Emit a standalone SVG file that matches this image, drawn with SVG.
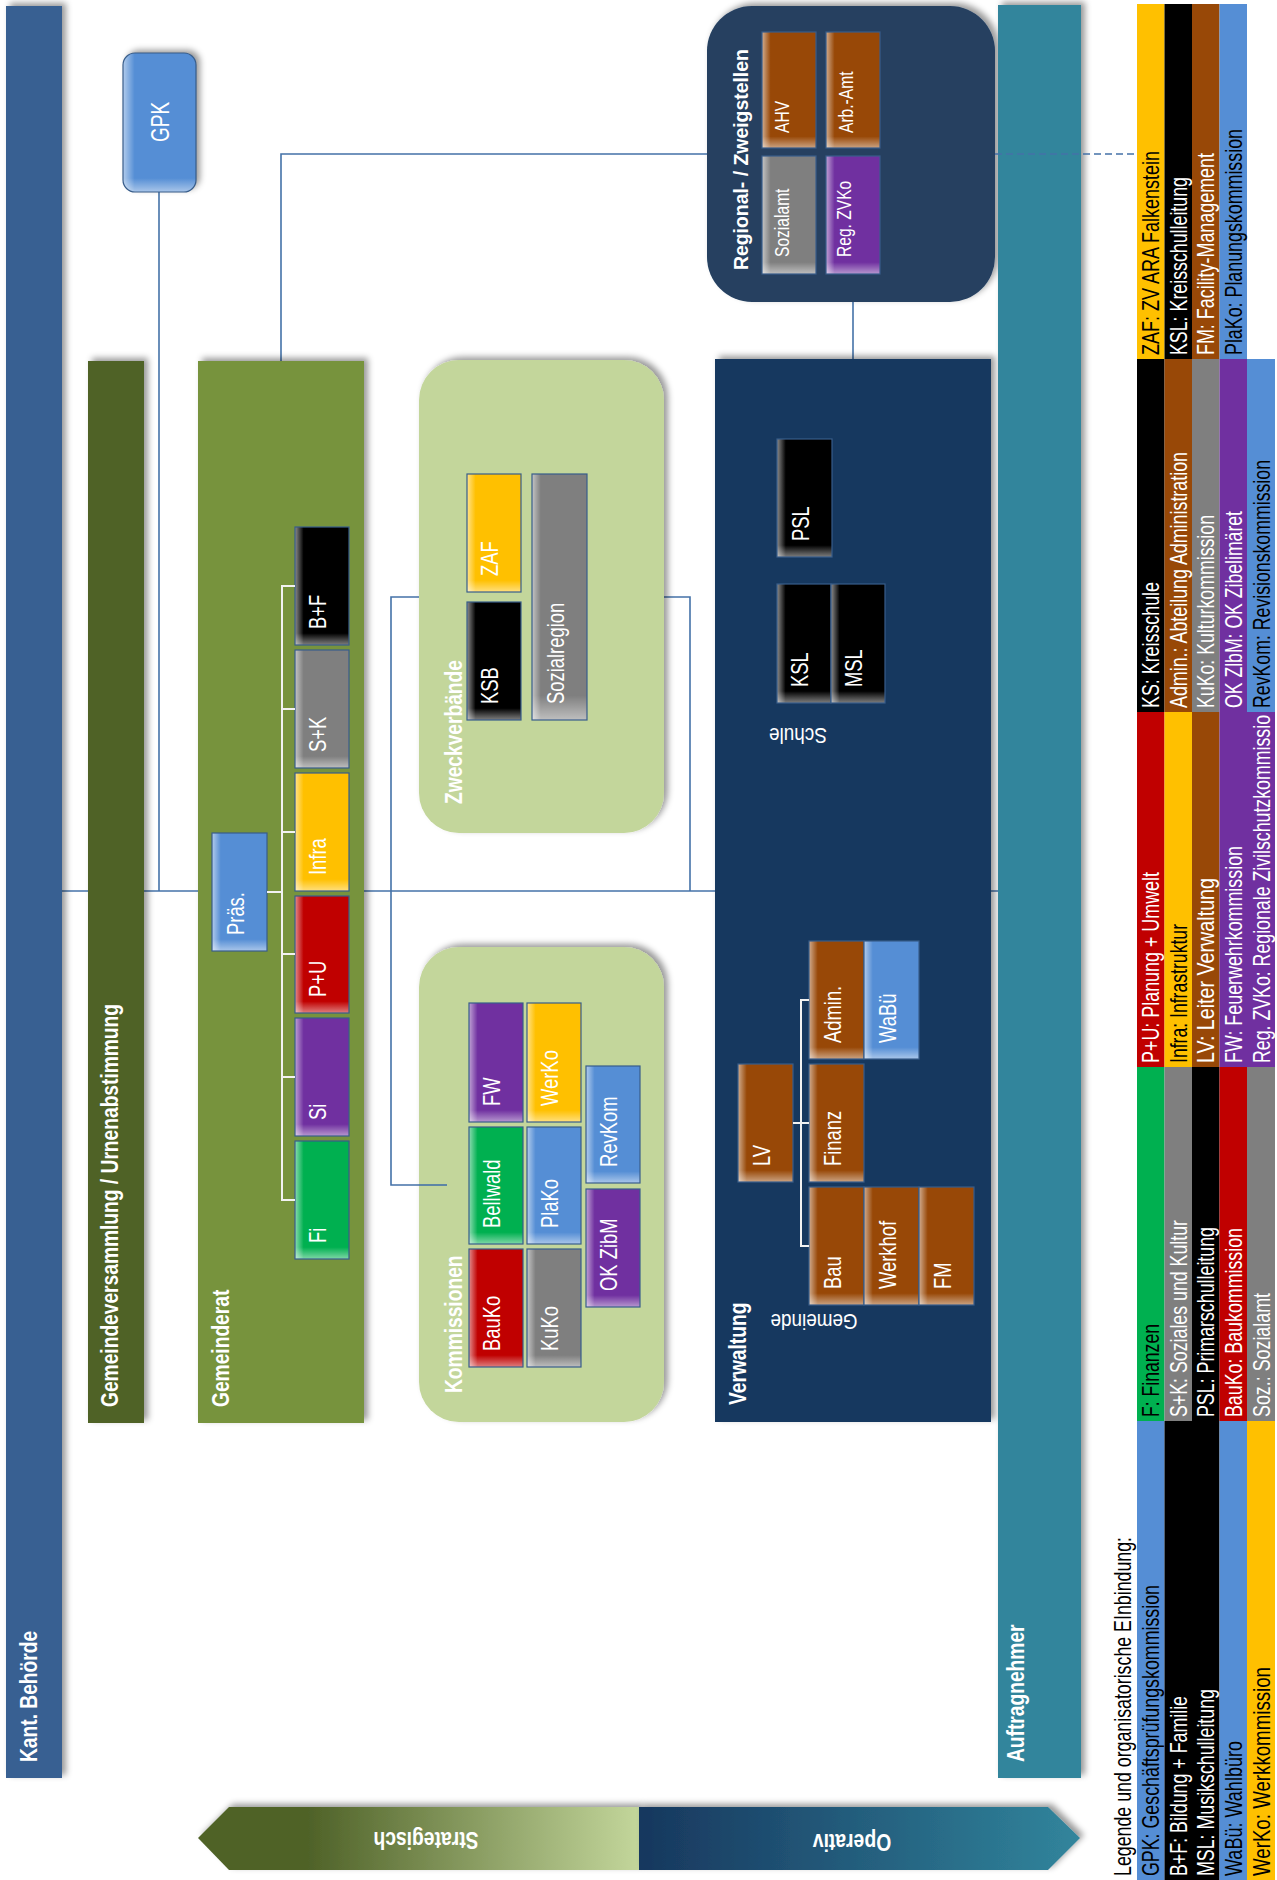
<svg xmlns="http://www.w3.org/2000/svg" width="1277" height="1880" viewBox="0 0 1277 1880">
<defs>
<filter id="sh" x="-30%" y="-30%" width="160%" height="160%"><feDropShadow dx="4" dy="-3" stdDeviation="3" flood-color="#000" flood-opacity="0.4"/></filter>
<linearGradient id="gL" x1="0" y1="0" x2="1" y2="0"><stop offset="0" stop-color="#fff" stop-opacity="0.55"/><stop offset="0.16" stop-color="#fff" stop-opacity="0"/></linearGradient>
<linearGradient id="gB" x1="0" y1="0" x2="0" y2="1"><stop offset="0.9" stop-color="#fff" stop-opacity="0"/><stop offset="1" stop-color="#fff" stop-opacity="0.5"/></linearGradient>
<linearGradient id="gStr" x1="0" y1="0" x2="1" y2="0"><stop offset="0.25" stop-color="#4F6228"/><stop offset="1" stop-color="#C3D69B"/></linearGradient>
<linearGradient id="gOp" x1="0" y1="0" x2="1" y2="0"><stop offset="0" stop-color="#17375E"/><stop offset="1" stop-color="#31859C"/></linearGradient>
<style>
text{font-family:"Liberation Sans",Arial,sans-serif;fill:#fff}
.bt{font-size:23px}
.rt{font-size:20px}
.gp{font-size:25px}
.ud{font-size:22px}
.tt{font-size:24px;font-weight:bold}
.rg{font-size:20px;font-weight:bold}
.ar{font-size:23px;font-weight:bold}
.lg{font-size:24px}
.dk{fill:#000}
.ln{stroke:#4472A8;stroke-width:1.6;fill:none}
.wl{stroke:#F2F2F2;stroke-width:2;fill:none}
.hl{fill:url(#gL)}
.hb{fill:url(#gB);stroke:#385D8A;stroke-width:1.2}
.blk{fill:#000}.gry{fill:#7F7F7F}.yel{fill:#FFC000}.red{fill:#C00000}.pur{fill:#7030A0}.grn{fill:#00B050}.blu{fill:#558ED5}.brn{fill:#984807}
</style>
</defs>
<rect x="0" y="0" width="1277" height="1880" fill="#fff"/>

<g id="connectors">
<path class="ln" d="M62 891 H998"/>
<path class="ln" d="M159 192 V891"/>
<path class="ln" d="M281 361 V154 H707"/>
<path class="ln" d="M853 302 V359"/>
<path class="ln" d="M690 891 V597 H391 V1185 H447"/>
</g>

<g id="kant"><rect x="6" y="6" width="56" height="1772" fill="#376092" filter="url(#sh)"/>
<text class="tt" transform="translate(37,1762) rotate(-90) scale(.8,1)">Kant. Behörde</text></g>

<g id="gpk"><rect x="123" y="53" width="73" height="139" rx="12" class="blu" filter="url(#sh)"/><rect x="123" y="53" width="73" height="139" rx="12" class="hl"/><rect x="123" y="53" width="73" height="139" rx="12" class="hb"/>
<text class="gp" text-anchor="middle" transform="translate(169,122) rotate(-90) scale(.76,1)">GPK</text></g>

<g id="gemeindeversammlung"><rect x="88" y="361" width="56" height="1062" fill="#4F6228" filter="url(#sh)"/>
<text class="tt" transform="translate(118,1407) rotate(-90) scale(.8,1)">Gemeindeversammlung / Urnenabstimmung</text></g>

<g id="gemeinderat"><rect x="198" y="361" width="166" height="1062" fill="#77933C" filter="url(#sh)"/>
<text class="tt" transform="translate(229,1407) rotate(-90) scale(.8,1)">Gemeinderat</text></g>

<g id="zweckverbaende"><rect x="419" y="360" width="245" height="473" rx="40" fill="#C3D69B" filter="url(#sh)"/>
<text class="tt" transform="translate(462,804) rotate(-90) scale(.8,1)">Zweckverbände</text></g>

<g id="kommissionen"><rect x="419" y="947" width="245" height="475" rx="40" fill="#C3D69B" filter="url(#sh)"/>
<text class="tt" transform="translate(462,1393) rotate(-90) scale(.8,1)">Kommissionen</text></g>

<g id="regional"><rect x="707" y="6" width="288" height="296" rx="45" fill="#254061" filter="url(#sh)"/>
<text class="rg" transform="translate(748,270) rotate(-90) scale(.97,1)">Regional- / Zweigstellen</text></g>

<g id="verwaltung"><rect x="715" y="359" width="276" height="1063" fill="#17375E" filter="url(#sh)"/>
<text class="tt" transform="translate(746,1405) rotate(-90) scale(.8,1)">Verwaltung</text>
<text class="ud" text-anchor="middle" transform="translate(798,728) rotate(180) scale(.86,1)">Schule</text>
<text class="ud" text-anchor="middle" transform="translate(814,1314) rotate(180) scale(.86,1)">Gemeinde</text></g>

<g id="auftragnehmer"><rect x="998" y="5" width="83" height="1773" fill="#31859C" filter="url(#sh)"/>
<text class="tt" transform="translate(1024,1762) rotate(-90) scale(.8,1)">Auftragnehmer</text></g>

<g id="n-praes"><rect x="212" y="833" width="55" height="118" class="blu"/><rect x="212" y="833" width="55" height="118" class="hl"/><rect x="212" y="833" width="55" height="118" class="hb"/><text class="bt" transform="translate(243.5,935) rotate(-90) scale(.8,1)">Präs.</text></g>
<g id="n-bf"><rect x="295" y="527" width="54" height="118" class="blk"/><rect x="295" y="527" width="54" height="118" class="hl"/><rect x="295" y="527" width="54" height="118" class="hb"/><text class="bt" transform="translate(326,629) rotate(-90) scale(.8,1)">B+F</text></g>
<g id="n-sk"><rect x="295" y="650" width="54" height="118" class="gry"/><rect x="295" y="650" width="54" height="118" class="hl"/><rect x="295" y="650" width="54" height="118" class="hb"/><text class="bt" transform="translate(326,752) rotate(-90) scale(.8,1)">S+K</text></g>
<g id="n-infra"><rect x="295" y="773" width="54" height="118" class="yel"/><rect x="295" y="773" width="54" height="118" class="hl"/><rect x="295" y="773" width="54" height="118" class="hb"/><text class="bt" transform="translate(326,875) rotate(-90) scale(.8,1)">Infra</text></g>
<g id="n-pu"><rect x="295" y="896" width="54" height="117" class="red"/><rect x="295" y="896" width="54" height="117" class="hl"/><rect x="295" y="896" width="54" height="117" class="hb"/><text class="bt" transform="translate(326,997) rotate(-90) scale(.8,1)">P+U</text></g>
<g id="n-si"><rect x="295" y="1018" width="54" height="118" class="pur"/><rect x="295" y="1018" width="54" height="118" class="hl"/><rect x="295" y="1018" width="54" height="118" class="hb"/><text class="bt" transform="translate(326,1120) rotate(-90) scale(.8,1)">Si</text></g>
<g id="n-fi"><rect x="295" y="1141" width="54" height="118" class="grn"/><rect x="295" y="1141" width="54" height="118" class="hl"/><rect x="295" y="1141" width="54" height="118" class="hb"/><text class="bt" transform="translate(326,1243) rotate(-90) scale(.8,1)">Fi</text></g>

<g id="n-zaf"><rect x="467" y="474" width="54" height="118" class="yel"/><rect x="467" y="474" width="54" height="118" class="hl"/><rect x="467" y="474" width="54" height="118" class="hb"/><text class="bt" transform="translate(498,576) rotate(-90) scale(.8,1)">ZAF</text></g>
<g id="n-ksb"><rect x="467" y="602" width="54" height="118" class="blk"/><rect x="467" y="602" width="54" height="118" class="hl"/><rect x="467" y="602" width="54" height="118" class="hb"/><text class="bt" transform="translate(498,704) rotate(-90) scale(.8,1)">KSB</text></g>
<g id="n-sozialregion"><rect x="532" y="474" width="55" height="246" class="gry"/><rect x="532" y="474" width="55" height="246" class="hl"/><rect x="532" y="474" width="55" height="246" class="hb"/><text class="bt" transform="translate(563.5,704) rotate(-90) scale(.8,1)">Sozialregion</text></g>

<g id="n-fw"><rect x="469" y="1003" width="54" height="119" class="pur"/><rect x="469" y="1003" width="54" height="119" class="hl"/><rect x="469" y="1003" width="54" height="119" class="hb"/><text class="bt" transform="translate(500,1106) rotate(-90) scale(.8,1)">FW</text></g>
<g id="n-bellwald"><rect x="469" y="1127" width="54" height="117" class="grn"/><rect x="469" y="1127" width="54" height="117" class="hl"/><rect x="469" y="1127" width="54" height="117" class="hb"/><text class="bt" transform="translate(500,1228) rotate(-90) scale(.8,1)">Bellwald</text></g>
<g id="n-bauko"><rect x="469" y="1249" width="54" height="118" class="red"/><rect x="469" y="1249" width="54" height="118" class="hl"/><rect x="469" y="1249" width="54" height="118" class="hb"/><text class="bt" transform="translate(500,1351) rotate(-90) scale(.8,1)">BauKo</text></g>
<g id="n-werko"><rect x="527" y="1003" width="54" height="119" class="yel"/><rect x="527" y="1003" width="54" height="119" class="hl"/><rect x="527" y="1003" width="54" height="119" class="hb"/><text class="bt" transform="translate(558,1106) rotate(-90) scale(.8,1)">WerKo</text></g>
<g id="n-plako"><rect x="527" y="1127" width="54" height="117" class="blu"/><rect x="527" y="1127" width="54" height="117" class="hl"/><rect x="527" y="1127" width="54" height="117" class="hb"/><text class="bt" transform="translate(558,1228) rotate(-90) scale(.8,1)">PlaKo</text></g>
<g id="n-kuko"><rect x="527" y="1249" width="54" height="118" class="gry"/><rect x="527" y="1249" width="54" height="118" class="hl"/><rect x="527" y="1249" width="54" height="118" class="hb"/><text class="bt" transform="translate(558,1351) rotate(-90) scale(.8,1)">KuKo</text></g>
<g id="n-revkom"><rect x="586" y="1066" width="54" height="117" class="blu"/><rect x="586" y="1066" width="54" height="117" class="hl"/><rect x="586" y="1066" width="54" height="117" class="hb"/><text class="bt" transform="translate(617,1167) rotate(-90) scale(.8,1)">RevKom</text></g>
<g id="n-okzibm"><rect x="586" y="1189" width="54" height="118" class="pur"/><rect x="586" y="1189" width="54" height="118" class="hl"/><rect x="586" y="1189" width="54" height="118" class="hb"/><text class="bt" transform="translate(617,1291) rotate(-90) scale(.8,1)">OK ZibM</text></g>

<g id="n-ahv"><rect x="762" y="32" width="54" height="116" class="brn"/><rect x="762" y="32" width="54" height="116" class="hl"/><rect x="762" y="32" width="54" height="116" class="hb"/><text class="rt" transform="translate(789,133) rotate(-90) scale(.78,1)">AHV</text></g>
<g id="n-sozialamt"><rect x="762" y="156" width="54" height="118" class="gry"/><rect x="762" y="156" width="54" height="118" class="hl"/><rect x="762" y="156" width="54" height="118" class="hb"/><text class="rt" transform="translate(789,257) rotate(-90) scale(.78,1)">Sozialamt</text></g>
<g id="n-arbamt"><rect x="826" y="32" width="54" height="116" class="brn"/><rect x="826" y="32" width="54" height="116" class="hl"/><rect x="826" y="32" width="54" height="116" class="hb"/><text class="rt" transform="translate(853,133) rotate(-90) scale(.78,1)">Arb.-Amt</text></g>
<g id="n-regzvko"><rect x="826" y="156" width="54" height="118" class="pur"/><rect x="826" y="156" width="54" height="118" class="hl"/><rect x="826" y="156" width="54" height="118" class="hb"/><text class="rt" transform="translate(851,257) rotate(-90) scale(.78,1)">Reg. ZVKo</text></g>

<g id="n-psl"><rect x="777" y="439" width="55" height="118" class="blk"/><rect x="777" y="439" width="55" height="118" class="hl"/><rect x="777" y="439" width="55" height="118" class="hb"/><text class="bt" transform="translate(808.5,541) rotate(-90) scale(.8,1)">PSL</text></g>
<g id="n-ksl"><rect x="777" y="584" width="54" height="119" class="blk"/><rect x="777" y="584" width="54" height="119" class="hl"/><rect x="777" y="584" width="54" height="119" class="hb"/><text class="bt" transform="translate(808,687) rotate(-90) scale(.8,1)">KSL</text></g>
<g id="n-msl"><rect x="831" y="584" width="54" height="119" class="blk"/><rect x="831" y="584" width="54" height="119" class="hl"/><rect x="831" y="584" width="54" height="119" class="hb"/><text class="bt" transform="translate(862,687) rotate(-90) scale(.8,1)">MSL</text></g>
<g id="n-lv"><rect x="738" y="1064" width="55" height="118" class="brn"/><rect x="738" y="1064" width="55" height="118" class="hl"/><rect x="738" y="1064" width="55" height="118" class="hb"/><text class="bt" transform="translate(769.5,1166) rotate(-90) scale(.8,1)">LV</text></g>
<g id="n-admin"><rect x="809" y="941" width="55" height="118" class="brn"/><rect x="809" y="941" width="55" height="118" class="hl"/><rect x="809" y="941" width="55" height="118" class="hb"/><text class="bt" transform="translate(840.5,1043) rotate(-90) scale(.8,1)">Admin.</text></g>
<g id="n-wabue"><rect x="864" y="941" width="55" height="118" class="blu"/><rect x="864" y="941" width="55" height="118" class="hl"/><rect x="864" y="941" width="55" height="118" class="hb"/><text class="bt" transform="translate(895.5,1043) rotate(-90) scale(.8,1)">WaBü</text></g>
<g id="n-finanz"><rect x="809" y="1064" width="55" height="118" class="brn"/><rect x="809" y="1064" width="55" height="118" class="hl"/><rect x="809" y="1064" width="55" height="118" class="hb"/><text class="bt" transform="translate(840.5,1166) rotate(-90) scale(.8,1)">Finanz</text></g>
<g id="n-bau"><rect x="809" y="1187" width="55" height="118" class="brn"/><rect x="809" y="1187" width="55" height="118" class="hl"/><rect x="809" y="1187" width="55" height="118" class="hb"/><text class="bt" transform="translate(840.5,1289) rotate(-90) scale(.8,1)">Bau</text></g>
<g id="n-werkhof"><rect x="864" y="1187" width="55" height="118" class="brn"/><rect x="864" y="1187" width="55" height="118" class="hl"/><rect x="864" y="1187" width="55" height="118" class="hb"/><text class="bt" transform="translate(895.5,1289) rotate(-90) scale(.8,1)">Werkhof</text></g>
<g id="n-fm"><rect x="919" y="1187" width="55" height="118" class="brn"/><rect x="919" y="1187" width="55" height="118" class="hl"/><rect x="919" y="1187" width="55" height="118" class="hb"/><text class="bt" transform="translate(950.5,1289) rotate(-90) scale(.8,1)">FM</text></g>

<g id="arrow-strategisch"><path d="M198 1838 L229 1807 H639 V1870 H229 Z" fill="url(#gStr)" filter="url(#sh)"/>
<text class="ar" text-anchor="middle" transform="translate(426,1832) rotate(180) scale(.84,1)">Strategisch</text></g>
<g id="arrow-operativ"><path d="M639 1807 H1048 L1080 1838 L1048 1870 H639 Z" fill="url(#gOp)" filter="url(#sh)"/>
<text class="ar" text-anchor="middle" transform="translate(852,1834) rotate(180) scale(.84,1)">Operativ</text></g>

<g id="connectors-front">
<path class="ln" stroke-dasharray="7 4" d="M995 154 H1164"/>
<path class="ln" d="M419 1185 H447"/>
<path class="wl" d="M295 586 H282 V1200 H295 M282 709 H295 M282 832 H295 M282 954 H295 M282 1077 H295 M267 892 H282"/>
<path class="wl" d="M809 1000 H801 V1246 H809 M793 1123 H809"/>
</g>

<g id="legend">
<rect x="1137" y="4" width="27.5" height="355" class="yel"/>
<rect x="1164.5" y="4" width="27.5" height="355" class="blk"/>
<rect x="1192" y="4" width="27.5" height="355" class="brn"/>
<rect x="1219.5" y="4" width="27.5" height="355" class="blu"/>
<rect x="1137" y="359" width="27.5" height="353" class="blk"/>
<rect x="1164.5" y="359" width="27.5" height="353" class="brn"/>
<rect x="1192" y="359" width="27.5" height="353" class="gry"/>
<rect x="1219.5" y="359" width="27.5" height="353" class="pur"/>
<rect x="1247" y="359" width="28" height="353" class="blu"/>
<rect x="1137" y="712" width="27.5" height="355" class="red"/>
<rect x="1164.5" y="712" width="27.5" height="355" class="yel"/>
<rect x="1192" y="712" width="27.5" height="355" class="brn"/>
<rect x="1219.5" y="712" width="27.5" height="355" class="pur"/>
<rect x="1247" y="712" width="28" height="355" class="pur"/>
<rect x="1137" y="1067" width="27.5" height="354" class="grn"/>
<rect x="1164.5" y="1067" width="27.5" height="354" class="gry"/>
<rect x="1192" y="1067" width="27.5" height="354" class="blk"/>
<rect x="1219.5" y="1067" width="27.5" height="354" class="red"/>
<rect x="1247" y="1067" width="28" height="354" class="gry"/>
<rect x="1137" y="1421" width="27.5" height="459" class="blu"/>
<rect x="1164.5" y="1421" width="27.5" height="459" class="blk"/>
<rect x="1192" y="1421" width="27.5" height="459" class="blk"/>
<rect x="1219.5" y="1421" width="27.5" height="459" class="blu"/>
<rect x="1247" y="1421" width="28" height="459" class="yel"/>

<text class="lg dk" textLength="204" lengthAdjust="spacingAndGlyphs" transform="translate(1159,355) rotate(-90)">ZAF: ZV ARA Falkenstein</text>
<text class="lg" textLength="178" lengthAdjust="spacingAndGlyphs" transform="translate(1187,355) rotate(-90)">KSL: Kreisschulleitung</text>
<text class="lg" textLength="202" lengthAdjust="spacingAndGlyphs" transform="translate(1214,355) rotate(-90)">FM: Facility-Management</text>
<text class="lg dk" textLength="226" lengthAdjust="spacingAndGlyphs" transform="translate(1242,355) rotate(-90)">PlaKo: Planungskommission</text>

<text class="lg" textLength="126" lengthAdjust="spacingAndGlyphs" transform="translate(1159,708) rotate(-90)">KS: Kreisschule</text>
<text class="lg" textLength="256" lengthAdjust="spacingAndGlyphs" transform="translate(1187,708) rotate(-90)">Admin.: Abteilung Administration</text>
<text class="lg" textLength="193" lengthAdjust="spacingAndGlyphs" transform="translate(1214,708) rotate(-90)">KuKo: Kulturkommission</text>
<text class="lg" textLength="197" lengthAdjust="spacingAndGlyphs" transform="translate(1242,708) rotate(-90)">OK ZlbM: OK Zibelimäret</text>
<text class="lg dk" textLength="248" lengthAdjust="spacingAndGlyphs" transform="translate(1269.5,708) rotate(-90)">RevKom: Revisionskommission</text>

<text class="lg" textLength="191" lengthAdjust="spacingAndGlyphs" transform="translate(1159,1063) rotate(-90)">P+U: Planung + Umwelt</text>
<text class="lg dk" textLength="139" lengthAdjust="spacingAndGlyphs" transform="translate(1187,1063) rotate(-90)">Infra: Infrastruktur</text>
<text class="lg" textLength="185" lengthAdjust="spacingAndGlyphs" transform="translate(1214,1063) rotate(-90)">LV: Leiter Verwaltung</text>
<text class="lg" textLength="217" lengthAdjust="spacingAndGlyphs" transform="translate(1242,1063) rotate(-90)">FW: Feuerwehrkommission</text>
<text class="lg" textLength="348" lengthAdjust="spacingAndGlyphs" transform="translate(1269.5,1063) rotate(-90)">Reg. ZVKo: Regionale Zivilschutzkommissio</text>

<text class="lg dk" textLength="93" lengthAdjust="spacingAndGlyphs" transform="translate(1159,1417) rotate(-90)">F: Finanzen</text>
<text class="lg" textLength="197" lengthAdjust="spacingAndGlyphs" transform="translate(1187,1417) rotate(-90)">S+K: Soziales und Kultur</text>
<text class="lg" textLength="190" lengthAdjust="spacingAndGlyphs" transform="translate(1214,1417) rotate(-90)">PSL: Primarschulleitung</text>
<text class="lg" textLength="189" lengthAdjust="spacingAndGlyphs" transform="translate(1242,1417) rotate(-90)">BauKo: Baukommission</text>
<text class="lg" textLength="124" lengthAdjust="spacingAndGlyphs" transform="translate(1269.5,1417) rotate(-90)">Soz.: Sozialamt</text>

<text class="lg dk" textLength="339" lengthAdjust="spacingAndGlyphs" transform="translate(1131,1876) rotate(-90)">Legende und organisatorische EInbindung:</text>
<text class="lg dk" textLength="291" lengthAdjust="spacingAndGlyphs" transform="translate(1159,1876) rotate(-90)">GPK: Geschäftsprüfungskommission</text>
<text class="lg" textLength="180" lengthAdjust="spacingAndGlyphs" transform="translate(1187,1876) rotate(-90)">B+F: Bildung + Familie</text>
<text class="lg" textLength="187" lengthAdjust="spacingAndGlyphs" transform="translate(1214,1876) rotate(-90)">MSL: Musikschulleitung</text>
<text class="lg dk" textLength="135" lengthAdjust="spacingAndGlyphs" transform="translate(1242,1876) rotate(-90)">WaBü: Wahlbüro</text>
<text class="lg dk" textLength="209" lengthAdjust="spacingAndGlyphs" transform="translate(1269.5,1876) rotate(-90)">WerKo: Werkkommission</text>
</g>
</svg>
